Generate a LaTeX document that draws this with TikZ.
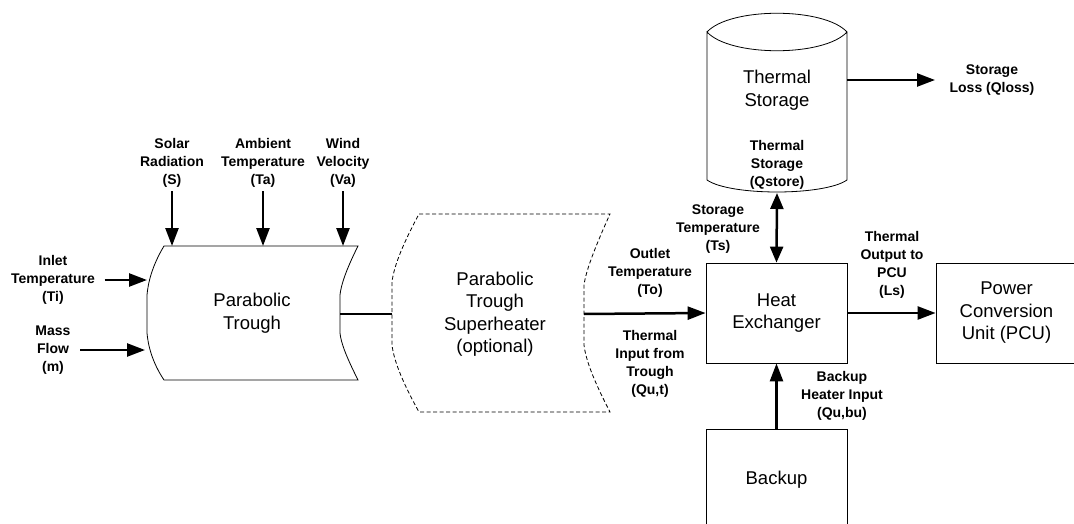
\documentclass[tikz,border=0pt]{standalone}
\usepackage{fontspec}
\setmainfont{Liberation Sans}
\usetikzlibrary{arrows.meta,positioning}

\begin{document}
\begin{tikzpicture}[x=1pt,y=-1pt,line width=0.8pt,
  block/.style={draw, minimum width=141pt, minimum height=100pt, align=center, font=\fontsize{18.5}{22.5}\selectfont},
  big/.style={align=center, font=\fontsize{18.5}{22.5}\selectfont},
  lbl/.style={align=center, font=\fontsize{14}{18}\selectfont\bfseries},
  flow/.style={line width=2.5pt, -{Triangle[length=18pt,width=13pt]}},
  twoway/.style={line width=2.5pt, {Triangle[length=16pt,width=13pt]}-{Triangle[length=16pt,width=13pt]}},
  optional/.style={dash pattern=on 4pt off 2.5pt},
]
\clip (0,0) rectangle (1074,524);

\draw (164,246) -- (358,246) .. controls (346,270) and (341,285) .. (340,295) -- (340,333)
  .. controls (341,343) and (346,356) .. (358,380) -- (164,380)
  .. controls (152,362) and (148,345) .. (147,333) -- (147,295)
  .. controls (148,283) and (152,266) .. (164,246) -- cycle;
\node[big] (trough) at (252,313) {Parabolic\\Trough};
\coordinate (trough-top) at (252,246);
\coordinate (trough-w) at (147,313);
\coordinate (trough-e) at (340,314);

\draw[optional] (419,214) -- (610,214) .. controls (596,245) and (586,270) .. (584,285) -- (584,345)
  .. controls (586,362) and (596,385) .. (610,412) -- (419,412)
  .. controls (404,385) and (394,362) .. (392,345) -- (392,282)
  .. controls (394,265) and (404,242) .. (419,214) -- cycle;
\node[big] (superheater) at (495,314) {Parabolic\\Trough\\Superheater\\(optional)};
\coordinate (superheater-w) at (392,314);
\coordinate (superheater-e) at (584,314);

\draw (707,32) .. controls (730,7) and (824,7) .. (847,32) .. controls (824,57) and (730,57) .. (707,32)
  -- (707,180) .. controls (730,196) and (824,196) .. (847,180) -- (847,32);
\node[big] (storage) at (777,90) {Thermal\\Storage};
\node[lbl] (qstore) at (777,165) {Thermal\\Storage\\(Qstore)};
\coordinate (storage-s) at (777,193);
\coordinate (storage-e) at (847,80);

\node[block] (exchanger) at (776.5,313) {Heat\\Exchanger};
\node[block, anchor=north] (backup) at (776.5,429) {Backup};
\node[block] (pcu) at (1006.5,313) {Power\\Conversion\\Unit (PCU)};

\node[lbl] (solar) at (172,163) {Solar\\Radiation\\(S)};
\node[lbl] (ambient) at (263,163) {Ambient\\Temperature\\(Ta)};
\node[lbl] (wind) at (343,163) {Wind\\Velocity\\(Va)};
\node[lbl] (inlet) at (53,280) {Inlet\\Temperature\\(Ti)};
\node[lbl] (mass) at (53,350) {Mass\\Flow\\(m)};
\node[lbl] (outlet) at (650,273) {Outlet\\Temperature\\(To)};
\node[lbl] (qut) at (650,364) {Thermal\\Input from\\Trough\\(Qu,t)};
\node[lbl] (ts) at (718,229) {Storage\\Temperature\\(Ts)};
\node[lbl] (ls) at (892,265) {Thermal\\Output to\\PCU\\(Ls)};
\node[lbl] (qubu) at (842,396) {Backup\\Heater Input\\(Qu,bu)};
\node[lbl] (loss) at (992,80) {Storage\\Loss (Qloss)};
\coordinate (loss-in) at (935,80);

\draw[flow] (solar.south) -- (solar.south |- trough-top);
\draw[flow] (ambient.south) -- (ambient.south |- trough-top);
\draw[flow] (wind.south) -- (wind.south |- trough-top);
\draw[flow] ([xshift=6pt]inlet.east) -- (inlet.east -| trough-w);
\draw[flow] ([xshift=6pt]mass.east) -- ([xshift=-2pt]mass.east -| trough-w);
\draw[line width=2.5pt] (trough-e) -- (superheater-w);
\draw[flow] (superheater-e) -- (exchanger.west);
\draw[flow] (exchanger.east) -- (pcu.west);
\draw[flow] (backup.north) -- (exchanger.south);
\draw[twoway] (exchanger.north) -- (storage-s);
\draw[flow] (storage-e) -- (loss-in);

\end{tikzpicture}
\end{document}
